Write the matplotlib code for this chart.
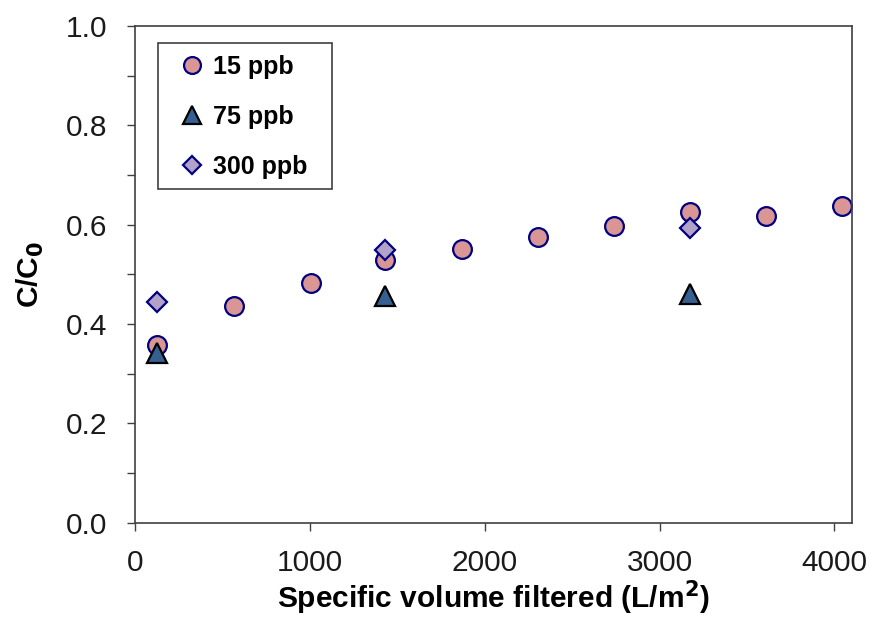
import matplotlib.pyplot as plt
from matplotlib.patches import Rectangle

plt.rcParams['font.family'] = ['Liberation Sans', 'DejaVu Sans']

# 15 ppb
x15 = [125, 565, 1005, 1430, 1870, 2305, 2740, 3175, 3610, 4045]
y15 = [0.357, 0.437, 0.482, 0.529, 0.551, 0.575, 0.598, 0.625, 0.618, 0.638]
# 75 ppb
x75 = [125, 1430, 3175]
y75 = [0.341, 0.457, 0.461]
# 300 ppb
x300 = [125, 1430, 3175]
y300 = [0.445, 0.549, 0.593]

fig = plt.figure(figsize=(8.71, 6.18), dpi=100)
ax = fig.add_axes([0.155, 0.154, 0.823, 0.804])

ax.plot(x15, y15, 'o', ms=13.5, mfc='#D99694', mec='#000080', mew=1.6, label='15 ppb')
ax.plot(x75, y75, '^', ms=14, mfc='#366092', mec='black', mew=1.6, label='75 ppb')
ax.plot(x300, y300, 'D', ms=10, mfc='#B3A2C7', mec='#000080', mew=1.6, label='300 ppb')

ax.set_xlim(0, 4100)
ax.set_ylim(0, 1.0)
ax.set_xticks([0, 1000, 2000, 3000, 4000])
ax.set_yticks([0.0, 0.2, 0.4, 0.6, 0.8, 1.0])
ax.set_yticklabels(['0.0', '0.2', '0.4', '0.6', '0.8', '1.0'])
ax.set_yticks([0.1, 0.3, 0.5, 0.7, 0.9], minor=True)
ax.tick_params(which='both', direction='out', length=6, width=1, labelsize=21.5,
               color='#404040', labelcolor='#1a1a1a')
ax.tick_params(axis='x', pad=13)
ax.tick_params(axis='y', which='both', pad=14)
for s in ax.spines.values():
    s.set_linewidth(1.2)
    s.set_color('#404040')

ax.set_xlabel('Specific volume filtered (L/m$^\\mathbf{2}$)', fontsize=21.5, fontweight='bold', labelpad=1)
ax.set_ylabel('C/C$_\\mathbf{0}$', fontsize=21.5, fontweight='bold', labelpad=14)

# legend box drawn separately so its size can be fixed
ax.add_patch(Rectangle((0.0322, 0.672), 0.2421, 0.2944, transform=ax.transAxes,
                       facecolor='white', edgecolor='#404040', lw=1.2, zorder=4))
leg = ax.legend(loc='upper left', bbox_to_anchor=(0.0322, 0.9664), borderaxespad=0,
                prop={'size': 18, 'weight': 'bold'}, frameon=False,
                labelspacing=1.03, handletextpad=0.0, borderpad=0.5,
                handlelength=1.7, numpoints=1, markerscale=0.9)
leg.set_zorder(5)

fig.savefig('out.png', dpi=100)
